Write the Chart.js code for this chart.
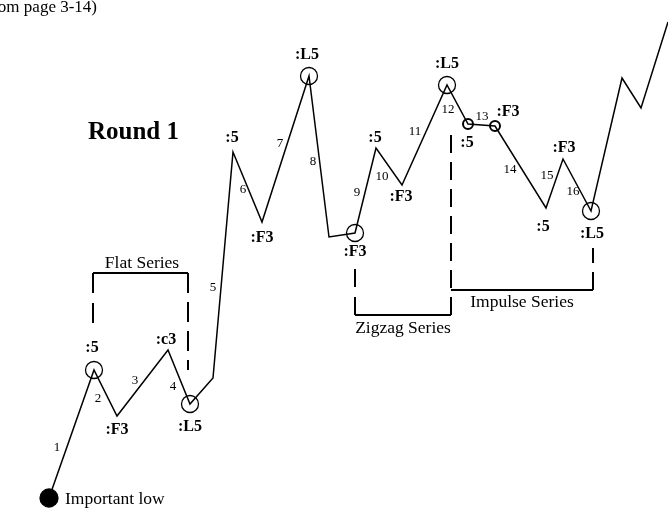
<!DOCTYPE html>
<html>
<head>
<meta charset="utf-8">
<script src="https://cdn.jsdelivr.net/npm/chart.js@4.4.1/dist/chart.umd.min.js"></script>
<style>
  html, body { margin: 0; padding: 0; background: #fff; }
  #wrap { width: 668px; height: 512px; }
</style>
</head>
<body>
<div id="wrap"><canvas id="chart" width="668" height="512"></canvas></div>
<script>
// turning points of the wave path (time position, price level)
const waveTime  = [49, 94, 117, 168, 190, 213, 233, 262, 309, 329, 355, 376, 402, 447, 468, 495, 546, 563, 591, 622, 641, 668];
const wavePrice = [14, 142, 96, 162, 108, 134, 360, 290, 436, 275, 279, 364, 327, 427, 388, 386, 304, 353, 301, 434, 404, 490];
const pointLabels = ['', ':5', ':F3', ':c3', ':L5', '', ':5', ':F3', ':L5', '', ':F3', ':5', ':F3', ':L5', ':5', ':F3', ':5', ':F3', ':L5', '', '', ''];
const markerKind  = ['dot', 'ring', '', '', 'ring', '', '', '', 'ring', '', 'ring', '', '', 'ring', 'small', 'small', '', '', 'ring', '', '', ''];

// wave numbers
const waveNumbers  = ['1', '2', '3', '4', '5', '6', '7', '8', '9', '10', '11', '12', '13', '14', '15', '16'];
const waveNumTime  = [57, 98, 135, 173, 213, 243, 280, 313, 357, 382, 415, 448, 482, 510, 547, 573];
const waveNumPrice = [64, 113, 131, 125, 224, 322, 368, 350, 319, 335, 380, 402, 395, 342, 336, 320];

// series brackets
const flatBarTime = [93, 188],  flatBarPrice = [239, 239];
const flatLeftTime = [93, 93],  flatLeftPrice = [239, 182];
const flatRightTime = [188, 188], flatRightPrice = [239, 142];
const zigBarTime = [355, 451],  zigBarPrice = [197, 197];
const zigLeftTime = [355, 355], zigLeftPrice = [197, 244];
const dividerTime = [451, 451], dividerPrice = [197, 380];
const impBarTime = [451, 593],  impBarPrice = [222, 222];
const impRightTime = [593, 593], impRightPrice = [222, 264];

const toPts = (t, p) => t.map((x, i) => ({ x: x, y: p[i] }));

// label offsets in pixels from each turning point
const labelOffset = {
  1: [-2, -22], 2: [0, 14], 3: [-2, -10], 4: [0, 23], 6: [-1, -14], 7: [0, 16],
  8: [-2, -21], 10: [0, 19], 11: [-1, -10], 12: [-1, 12], 13: [0, -21],
  14: [-1, 19], 15: [13, -14], 16: [-3, 19], 17: [1, -11], 18: [1, 23]
};

const serif = '"Liberation Serif", "Times New Roman", serif';
const notes = [
  { text: '(from page 3-14)', x: 97, y: 500, font: '17px ' + serif, align: 'right', base: 'alphabetic' },
  { text: 'Round 1', x: 88, y: 379, font: 'bold 25px ' + serif, align: 'left' },
  { text: 'Important low', x: 65, y: 13, font: '17.5px ' + serif, align: 'left' },
  { text: 'Flat Series', x: 142, y: 249, font: '17.5px ' + serif, align: 'center' },
  { text: 'Zigzag Series', x: 403, y: 184, font: '17.5px ' + serif, align: 'center' },
  { text: 'Impulse Series', x: 522, y: 210, font: '17.5px ' + serif, align: 'center' }
];

const textPlugin = {
  id: 'texts',
  afterDatasetsDraw(chart) {
    const ctx = chart.ctx;
    const sx = chart.scales.x, sy = chart.scales.y;
    ctx.save();
    ctx.fillStyle = '#000';
    ctx.textBaseline = 'middle';

    ctx.font = 'bold 16px ' + serif;
    ctx.textAlign = 'center';
    pointLabels.forEach((lab, i) => {
      if (!lab) return;
      const off = labelOffset[i] || [0, 0];
      ctx.fillText(lab, sx.getPixelForValue(waveTime[i]) + off[0], sy.getPixelForValue(wavePrice[i]) + off[1]);
    });

    ctx.font = '13px ' + serif;
    waveNumbers.forEach((n, i) => {
      ctx.fillText(n, sx.getPixelForValue(waveNumTime[i]), sy.getPixelForValue(waveNumPrice[i]));
    });

    notes.forEach(n => {
      ctx.font = n.font;
      ctx.textAlign = n.align;
      ctx.textBaseline = n.base || 'middle';
      ctx.fillText(n.text, sx.getPixelForValue(n.x), sy.getPixelForValue(n.y));
    });
    ctx.restore();
  }
};

const seg = (t, p, width, dash) => ({
  data: toPts(t, p),
  showLine: true,
  borderColor: '#000',
  borderWidth: width,
  borderDash: dash || [],
  pointRadius: 0,
  clip: false
});

new Chart(document.getElementById('chart'), {
  type: 'scatter',
  data: {
    datasets: [
      {
        data: toPts(waveTime, wavePrice),
        showLine: true,
        borderColor: '#000',
        borderWidth: 1.5,
        tension: 0,
        clip: false,
        pointRadius: markerKind.map(k => k === 'dot' ? 9 : k === 'ring' ? 8.5 : k === 'small' ? 5 : 0),
        pointBorderWidth: markerKind.map(k => k === 'small' ? 2 : 1.3),
        pointBorderColor: '#000',
        pointBackgroundColor: markerKind.map(k => k === 'dot' ? '#000' : 'rgba(0,0,0,0)')
      },
      seg(flatBarTime, flatBarPrice, 2.2),
      seg(flatLeftTime, flatLeftPrice, 2, [20, 10]),
      seg(flatRightTime, flatRightPrice, 2, [20, 9]),
      seg(zigBarTime, zigBarPrice, 2.2),
      seg(zigLeftTime, zigLeftPrice, 2, [18, 10]),
      seg(dividerTime, dividerPrice, 2, [18, 9]),
      seg(impBarTime, impBarPrice, 2.2),
      seg(impRightTime, impRightPrice, 2, [18, 9])
    ]
  },
  options: {
    responsive: false,
    animation: false,
    layout: { padding: 0, autoPadding: false },
    plugins: { legend: { display: false }, tooltip: { enabled: false } },
    scales: {
      x: { type: 'linear', min: 0, max: 668, display: false },
      y: { type: 'linear', min: 0, max: 512, display: false }
    }
  },
  plugins: [textPlugin]
});
</script>
</body>
</html>
